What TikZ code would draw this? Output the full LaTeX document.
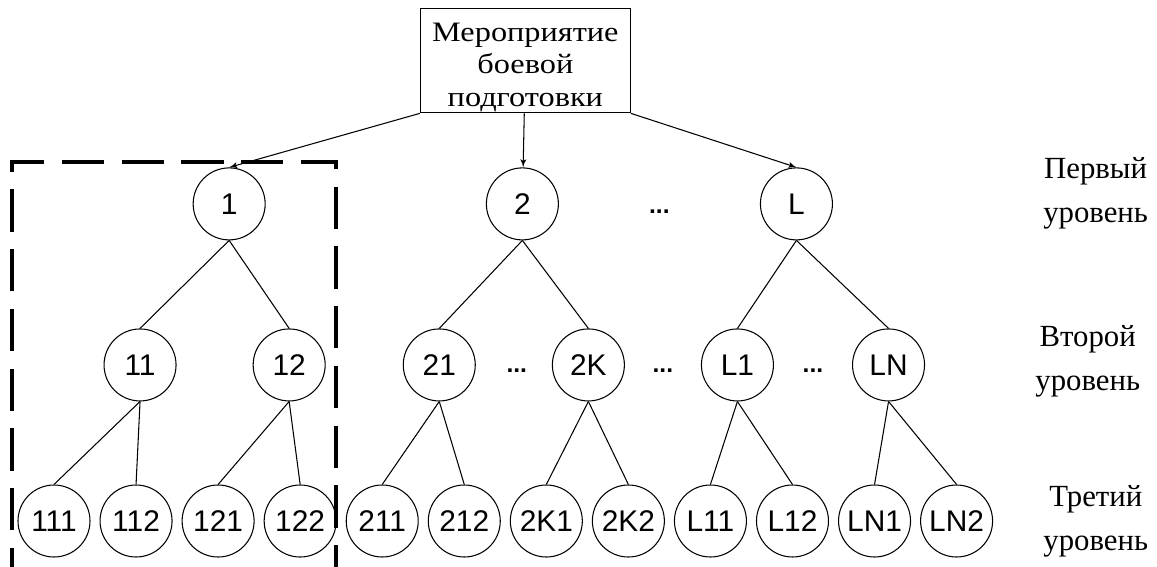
\documentclass[tikz,border=0pt]{standalone}
\usepackage{fontspec}
\setmainfont{Liberation Serif}
\setsansfont{Liberation Sans}
\newfontfamily\evtfont[FakeStretch=1.15]{Liberation Serif}
\usetikzlibrary{arrows, calc, positioning}
\tikzstyle{block} = [rectangle, draw, line width=0.6pt, minimum width=4.2cm,
    minimum height=2.08cm, align=center, inner sep=0pt,
    font=\evtfont\fontsize{16}{18.6}\selectfont]
\tikzstyle{circ} = [circle, draw, line width=0.6pt, minimum size=1.44cm,
    inner sep=0pt, font=\sffamily\fontsize{17}{19}\selectfont]
\tikzstyle{dots} = [inner sep=0pt, font=\sffamily\bfseries\fontsize{14}{16}\selectfont]
\tikzstyle{levtext} = [align=center, inner sep=0pt, font=\fontsize{17.5}{25}\selectfont]
\tikzstyle{line} = [draw, line width=0.6pt, -latex']
\tikzstyle{edge} = [draw, line width=0.6pt]
\tikzstyle{frame} = [draw, line width=2pt, dash pattern=on 24pt off 10pt]

\begin{document}
\begin{tikzpicture}[]
        \useasboundingbox (0,0) rectangle (23.14,-11.34);
        % Place nodes: third level
        \node [circ] (n111) at (1.08,-10.42) {111};
        \node [circ] (n112) [right =0.18cm of n111] {112};
        \node [circ] (n121) [right =0.18cm of n112] {121};
        \node [circ] (n122) [right =0.18cm of n121] {122};
        \node [circ] (n211) [right =0.18cm of n122] {211};
        \node [circ] (n212) [right =0.18cm of n211] {212};
        \node [circ] (n2K1) [right =0.18cm of n212] {2K1};
        \node [circ] (n2K2) [right =0.18cm of n2K1] {2K2};
        \node [circ] (nL11) [right =0.18cm of n2K2] {L11};
        \node [circ] (nL12) [right =0.18cm of nL11] {L12};
        \node [circ] (nLN1) [right =0.18cm of nL12] {LN1};
        \node [circ] (nLN2) [right =0.18cm of nLN1] {LN2};
        % second level
        \node [circ] (n11) [above =1.66cm of n112, xshift=0.08cm] {11};
        \node [circ] (n12) [above =1.66cm of n122, xshift=-0.22cm] {12};
        \node [circ] (n21) [above =1.66cm of n212, xshift=-0.5cm] {21};
        \node [circ] (n2K) [above =1.66cm of n2K2, xshift=-0.8cm] {2K};
        \node [circ] (nL1) [above =1.66cm of nL11, xshift=0.54cm] {L1};
        \node [circ] (nLN) [above =1.66cm of nLN1, xshift=0.28cm] {LN};
        % first level
        \node [circ] (n1) [above =1.76cm of n12, xshift=-1.2cm] {1};
        \node [circ] (n2) [above =1.76cm of n2K, xshift=-1.32cm] {2};
        \node [circ] (nL) [above =1.76cm of nL1, xshift=1.18cm] {L};
        \node [block] (event) [above =1.08cm of n2, xshift=0.06cm]
            {\rule{0pt}{18pt}Мероприятие\\боевой\\подготовки};
        % dots
        \node [dots] (dotsA) at ($(n2)!0.5!(nL)+(0,-0.16)$) {...};
        \node [dots] (dotsB) at ($(n21)!0.52!(n2K)+(0,-0.12)$) {...};
        \node [dots] (dotsC) at ($(n2K)!0.5!(nL1)+(0,-0.12)$) {...};
        \node [dots] (dotsD) at ($(nL1)!0.5!(nLN)+(0,-0.12)$) {...};
        % level names
        \node [levtext] (lev1) [right =4.2cm of nL, yshift=0.22cm] {Первый\\уровень};
        \node [levtext] (lev2) [right =2.2cm of nLN, yshift=0.08cm] {Второй\\уровень};
        \node [levtext] (lev3) [right =1.0cm of nLN2] {Третий\\уровень};
        % dashed frame
        \coordinate (fbl) at (0.24,-11.8);
        \coordinate (ftr) at (6.72,-3.24);
        \coordinate (fbr) at (6.72,-11.8);
        \path [frame] (fbl) |- (ftr) -- (fbr);
        % Draw edges
        \path [line] (event.south west) -- (n1.north);
        \path [line] (event) -- (n2);
        \path [line] (event.south east) -- (nL.north);
        \path [edge] (n1.south) -- (n11.north);
        \path [edge] (n1.south) -- (n12.north);
        \path [edge] (n2.south) -- (n21.north);
        \path [edge] (n2.south) -- (n2K.north);
        \path [edge] (nL.south) -- (nL1.north);
        \path [edge] (nL.south) -- (nLN.north);
        \path [edge] (n11.south) -- (n111.north);
        \path [edge] (n11.south) -- (n112.north);
        \path [edge] (n12.south) -- (n121.north);
        \path [edge] (n12.south) -- (n122.north);
        \path [edge] (n21.south) -- (n211.north);
        \path [edge] (n21.south) -- (n212.north);
        \path [edge] (n2K.south) -- (n2K1.north);
        \path [edge] (n2K.south) -- (n2K2.north);
        \path [edge] (nL1.south) -- (nL11.north);
        \path [edge] (nL1.south) -- (nL12.north);
        \path [edge] (nLN.south) -- (nLN1.north);
        \path [edge] (nLN.south) -- (nLN2.north);
\end{tikzpicture}
\end{document}
